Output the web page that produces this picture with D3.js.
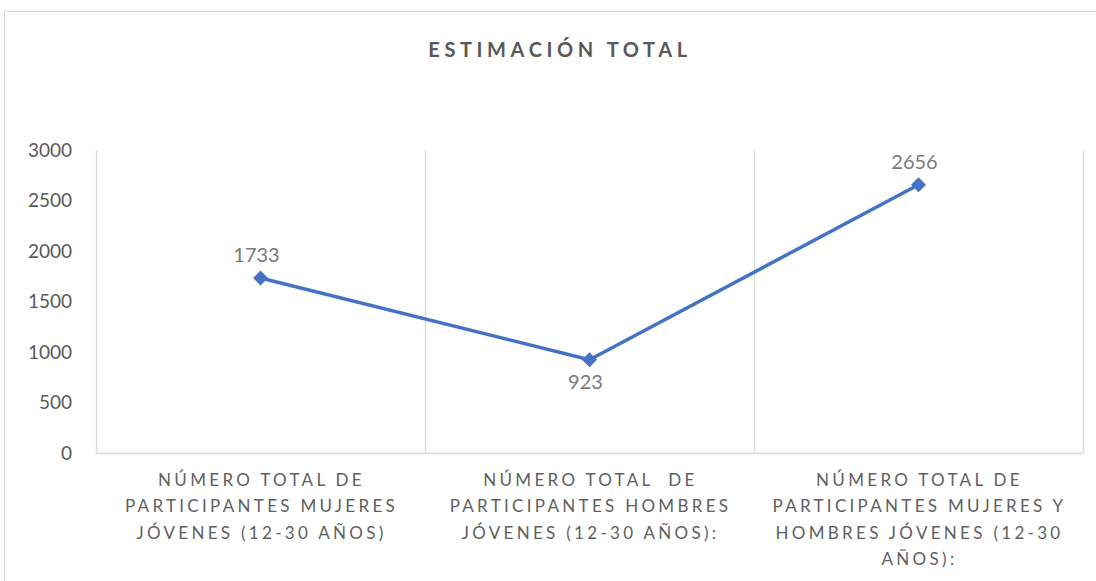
<!DOCTYPE html>
<html><head><meta charset="utf-8">
<script src="https://cdn.jsdelivr.net/npm/d3@7"></script>
<style>body{margin:0;background:#fff;} svg{display:block;} text{font-family:Lato,"Open Sans",sans-serif;}</style>
</head><body>
<svg id="c" width="1096" height="581"></svg>
<script>
const title = "ESTIMACIÓN TOTAL";
const categories = [
  ["NÚMERO TOTAL DE","PARTICIPANTES MUJERES","JÓVENES (12-30 AÑOS)"],
  ["NÚMERO TOTAL  DE","PARTICIPANTES HOMBRES","JÓVENES (12-30 AÑOS):"],
  ["NÚMERO TOTAL DE","PARTICIPANTES MUJERES Y","HOMBRES JÓVENES (12-30","AÑOS):"]
];
const values = [1733, 923, 2656];
const yTicks = [0, 500, 1000, 1500, 2000, 2500, 3000];
const labelPos = ["above", "below", "above"];

const svg = d3.select("#c");
svg.append("rect").attr("x",4.5).attr("y",11.5).attr("width",1200).attr("height",700)
  .attr("fill","#fff").attr("stroke","#d9d9d9").attr("stroke-width",1);

const L=96, R=1083, T=150, B=453;
const x = d3.scaleBand().domain(d3.range(categories.length)).range([L,R]).padding(0);
const y = d3.scaleLinear().domain([0,3000]).range([B,T]);

svg.append("text").attr("x",560).attr("y",57).attr("text-anchor","middle")
  .attr("font-size",20).attr("font-weight","bold").attr("fill","#595959")
  .attr("letter-spacing","4.6px").text(title);

const bounds = d3.range(categories.length+1).map(i => i<categories.length ? x(i) : x(categories.length-1)+x.bandwidth());
svg.append("g").selectAll("line").data(bounds).join("line")
  .attr("x1",d=>Math.round(d)+0.5).attr("x2",d=>Math.round(d)+0.5)
  .attr("y1",T).attr("y2",B).attr("stroke","#d9d9d9").attr("stroke-width",1.3);

svg.append("line").attr("x1",L).attr("x2",R).attr("y1",B+0.5).attr("y2",B+0.5)
  .attr("stroke","#d9d9d9").attr("stroke-width",1.3);

const yAxis = d3.axisLeft(y).tickValues(yTicks).tickSize(0).tickPadding(24).tickFormat(d3.format("d"));
const gy = svg.append("g").attr("transform",`translate(${L},0)`).call(yAxis);
gy.select(".domain").remove();
gy.selectAll("text").attr("font-size",19).attr("fill","#595959")
  .style("font-family","Lato,'Open Sans',sans-serif");

const cx = i => x(i)+x.bandwidth()/2;
categories.forEach((lines,i)=>{
  const t = svg.append("text").attr("text-anchor","middle").attr("font-size",17)
    .attr("fill","#606060").attr("letter-spacing","3.3px");
  lines.forEach((ln,j)=>{
    t.append("tspan").attr("x",cx(i)+1).attr("y",486+j*26.3).attr("xml:space","preserve").text(ln);
  });
});

const line = d3.line().x((d,i)=>cx(i)).y(d=>y(d));
svg.append("path").datum(values).attr("d",line).attr("fill","none")
  .attr("stroke","#4472C4").attr("stroke-width",3.5).attr("stroke-linejoin","round");

svg.append("g").selectAll("path").data(values).join("path")
  .attr("transform",(d,i)=>`translate(${cx(i)},${y(d)})`)
  .attr("d","M0,-7.5L7.5,0L0,7.5L-7.5,0Z")
  .attr("fill","#4472C4");

svg.append("g").selectAll("text").data(values).join("text")
  .attr("x",(d,i)=>cx(i)-4).attr("y",(d,i)=> labelPos[i]==="above" ? y(d)-16 : y(d)+29)
  .attr("text-anchor","middle").attr("font-size",20).attr("fill","#7a7a7a")
  .text(d=>d);
</script>
</body></html>
